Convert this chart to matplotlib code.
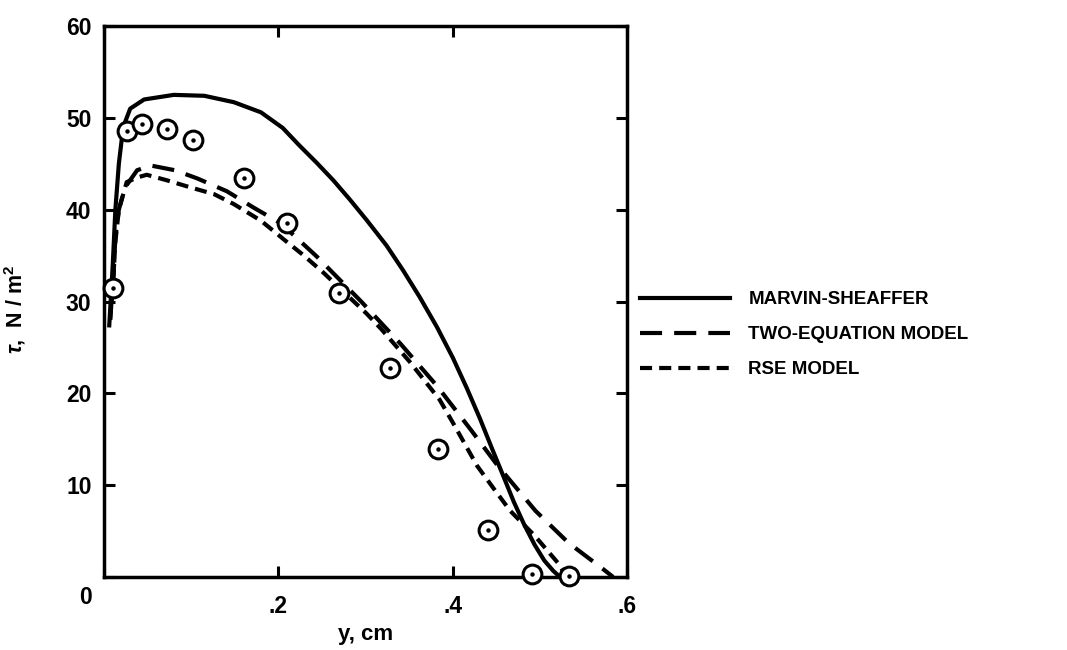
import matplotlib
matplotlib.use("Agg")
import matplotlib.pyplot as plt

plt.rcParams["font.family"] = ["Liberation Sans", "DejaVu Sans"]
plt.rcParams["font.weight"] = "bold"
plt.rcParams["axes.labelweight"] = "bold"
plt.rcParams["mathtext.fontset"] = "custom"
plt.rcParams["mathtext.rm"] = "Liberation Sans:bold"
plt.rcParams["mathtext.it"] = "Liberation Sans:italic:bold"

# measured shear stress (circles)
y_data = [0.010, 0.026, 0.044, 0.072, 0.102, 0.161, 0.210, 0.270, 0.328,
          0.383, 0.441, 0.491, 0.533]
tau_data = [31.5, 48.6, 49.3, 48.8, 47.6, 43.4, 38.6, 30.9, 22.8,
            13.9, 5.1, 0.3, 0.1]

# Marvin-Sheaffer (solid)
y_ms = [0.006, 0.010, 0.013, 0.017, 0.022, 0.030, 0.046, 0.080, 0.115,
        0.149, 0.180, 0.205, 0.224, 0.244, 0.263, 0.282, 0.301, 0.324,
        0.343, 0.362, 0.382, 0.400, 0.416, 0.431, 0.445, 0.458, 0.470,
        0.482, 0.494, 0.505, 0.515, 0.523]
tau_ms = [27.4, 34.0, 40.0, 45.0, 49.0, 51.0, 52.0, 52.5, 52.4,
          51.7, 50.6, 48.9, 47.0, 45.1, 43.2, 41.1, 38.9, 36.1,
          33.4, 30.5, 27.2, 23.9, 20.6, 17.3, 14.0, 11.0, 8.2,
          5.7, 3.5, 1.8, 0.7, 0.0]

# two-equation model (long dash)
y_te = [0.007, 0.011, 0.013, 0.017, 0.024, 0.038, 0.054, 0.081, 0.107,
        0.141, 0.172, 0.203, 0.244, 0.295, 0.341, 0.382, 0.421, 0.451,
        0.495, 0.533, 0.572, 0.584]
tau_te = [28.0, 33.0, 37.0, 40.0, 42.4, 44.3, 44.8, 44.3, 43.4,
          42.0, 40.2, 38.5, 34.9, 30.0, 25.3, 20.8, 16.0, 12.2,
          7.2, 3.7, 0.9, 0.0]

# RSE model (short dash)
y_rse = [0.007, 0.011, 0.013, 0.017, 0.026, 0.038, 0.049, 0.072, 0.100,
         0.126, 0.149, 0.180, 0.207, 0.228, 0.251, 0.301, 0.318, 0.351,
         0.385, 0.402, 0.428, 0.448, 0.466, 0.494, 0.521, 0.531]
tau_rse = [28.0, 33.0, 36.5, 40.0, 43.0, 43.5, 43.8, 43.2, 42.4,
           41.7, 40.6, 38.8, 36.7, 35.1, 33.2, 28.7, 27.0, 23.4,
           19.3, 16.5, 12.1, 9.5, 7.2, 4.5, 1.5, 0.0]

fig = plt.figure(figsize=(10.67, 6.5), dpi=100)
ax = fig.add_axes([0.0975, 0.1123, 0.4902, 0.8477])

lw = 3.0
ax.plot(y_ms, tau_ms, color="black", lw=lw, label="MARVIN-SHEAFFER")
ax.plot(y_te, tau_te, color="black", lw=lw, dashes=(5.3, 2.9),
        label="TWO-EQUATION MODEL")
ax.plot(y_rse, tau_rse, color="black", lw=lw, dashes=(2.9, 1.7),
        label="RSE MODEL")

ax.plot(y_data, tau_data, "o", ms=13.5, mfc="white", mec="black", mew=2.2,
        clip_on=False, zorder=5)
ax.plot(y_data, tau_data, "o", ms=2.2, color="black", clip_on=False, zorder=6)

ax.set_xlim(0, 0.6)
ax.set_ylim(0, 60)
ax.set_xticks([0, 0.2, 0.4, 0.6])
ax.set_xticklabels(["", ".2", ".4", ".6"])
ax.set_yticks([0, 10, 20, 30, 40, 50, 60])
ax.set_yticklabels(["", "10", "20", "30", "40", "50", "60"])
ax.tick_params(direction="in", length=8, width=2.2, top=True, right=True,
               labelsize=16.5)
ax.tick_params(axis="y", pad=9)
ax.tick_params(axis="x", pad=13)
for s in ax.spines.values():
    s.set_linewidth(2.5)

ax.text(-0.036, -0.038, "0", transform=ax.transAxes, fontsize=16.5,
        ha="center", va="center")

ax.set_xlabel("y, cm", fontsize=16)
ax.xaxis.set_label_coords(0.5, -0.085)
ax.set_ylabel(r"$\tau$,  N / m$^2$", fontsize=15.5)
ax.yaxis.set_label_coords(-0.145, 0.486)

ax.legend(loc="center left", bbox_to_anchor=(1.024, 0.44), frameon=False,
          fontsize=13.5, handlelength=4.8, handletextpad=1.0, labelspacing=0.95,
          borderpad=0, borderaxespad=0)

plt.savefig("out.png", dpi=100)
